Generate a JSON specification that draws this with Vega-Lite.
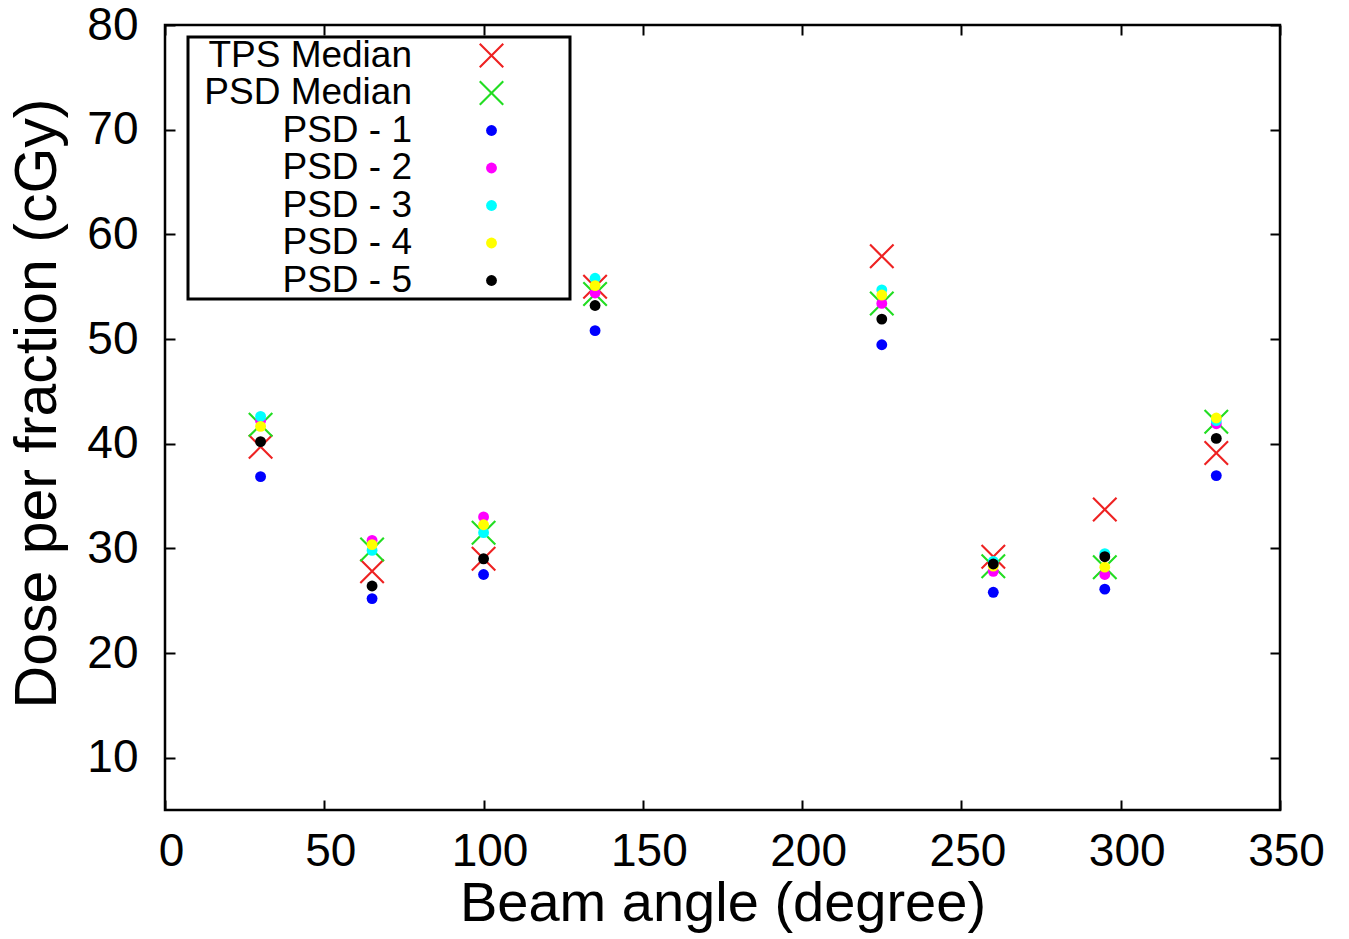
{
  "$schema": "https://vega.github.io/schema/vega-lite/v6.json",
  "width": 1115,
  "height": 785,
  "autosize": {"type": "none"},
  "padding": {"left": 165, "top": 25, "right": 69, "bottom": 129},
  "background": "white",
  "config": {
    "view": {"stroke": "black", "strokeWidth": 2.5},
    "font": "Liberation Sans",
    "legend": {"strokeWidth": 3},
    "axis": {
      "grid": false,
      "domain": false,
      "tickColor": "black",
      "tickWidth": 2,
      "tickSize": -10,
      "labelFont": "Liberation Sans",
      "labelFontSize": 46,
      "labelColor": "black",
      "labelFlush": false,
      "titleFont": "Liberation Sans",
      "titleFontSize": 56,
      "titleFontWeight": "normal",
      "titleColor": "black"
    }
  },
  "data": {
    "values": [
      {"angle": 30, "dose": 39.7, "series": "TPS Median"},
      {"angle": 65, "dose": 27.8, "series": "TPS Median"},
      {"angle": 100, "dose": 29.0, "series": "TPS Median"},
      {"angle": 135, "dose": 55.0, "series": "TPS Median"},
      {"angle": 225, "dose": 57.9, "series": "TPS Median"},
      {"angle": 260, "dose": 29.2, "series": "TPS Median"},
      {"angle": 295, "dose": 33.7, "series": "TPS Median"},
      {"angle": 330, "dose": 39.1, "series": "TPS Median"},
      {"angle": 30, "dose": 41.8, "series": "PSD Median"},
      {"angle": 65, "dose": 29.9, "series": "PSD Median"},
      {"angle": 100, "dose": 31.5, "series": "PSD Median"},
      {"angle": 135, "dose": 54.3, "series": "PSD Median"},
      {"angle": 225, "dose": 53.4, "series": "PSD Median"},
      {"angle": 260, "dose": 28.3, "series": "PSD Median"},
      {"angle": 295, "dose": 28.2, "series": "PSD Median"},
      {"angle": 330, "dose": 42.1, "series": "PSD Median"},
      {"angle": 30, "dose": 36.85, "series": "PSD - 1"},
      {"angle": 65, "dose": 25.2, "series": "PSD - 1"},
      {"angle": 100, "dose": 27.5, "series": "PSD - 1"},
      {"angle": 135, "dose": 50.8, "series": "PSD - 1"},
      {"angle": 225, "dose": 49.45, "series": "PSD - 1"},
      {"angle": 260, "dose": 25.8, "series": "PSD - 1"},
      {"angle": 295, "dose": 26.1, "series": "PSD - 1"},
      {"angle": 330, "dose": 36.95, "series": "PSD - 1"},
      {"angle": 30, "dose": 42.2, "series": "PSD - 2"},
      {"angle": 65, "dose": 30.76, "series": "PSD - 2"},
      {"angle": 100, "dose": 33.0, "series": "PSD - 2"},
      {"angle": 135, "dose": 54.4, "series": "PSD - 2"},
      {"angle": 225, "dose": 53.4, "series": "PSD - 2"},
      {"angle": 260, "dose": 27.8, "series": "PSD - 2"},
      {"angle": 295, "dose": 27.5, "series": "PSD - 2"},
      {"angle": 330, "dose": 41.9, "series": "PSD - 2"},
      {"angle": 30, "dose": 42.6, "series": "PSD - 3"},
      {"angle": 65, "dose": 29.8, "series": "PSD - 3"},
      {"angle": 100, "dose": 31.5, "series": "PSD - 3"},
      {"angle": 135, "dose": 55.8, "series": "PSD - 3"},
      {"angle": 225, "dose": 54.7, "series": "PSD - 3"},
      {"angle": 260, "dose": 28.75, "series": "PSD - 3"},
      {"angle": 295, "dose": 29.5, "series": "PSD - 3"},
      {"angle": 330, "dose": 42.2, "series": "PSD - 3"},
      {"angle": 30, "dose": 41.65, "series": "PSD - 4"},
      {"angle": 65, "dose": 30.35, "series": "PSD - 4"},
      {"angle": 100, "dose": 32.25, "series": "PSD - 4"},
      {"angle": 135, "dose": 55.1, "series": "PSD - 4"},
      {"angle": 225, "dose": 54.2, "series": "PSD - 4"},
      {"angle": 260, "dose": 28.3, "series": "PSD - 4"},
      {"angle": 295, "dose": 28.2, "series": "PSD - 4"},
      {"angle": 330, "dose": 42.45, "series": "PSD - 4"},
      {"angle": 30, "dose": 40.2, "series": "PSD - 5"},
      {"angle": 65, "dose": 26.4, "series": "PSD - 5"},
      {"angle": 100, "dose": 29.0, "series": "PSD - 5"},
      {"angle": 135, "dose": 53.2, "series": "PSD - 5"},
      {"angle": 225, "dose": 51.9, "series": "PSD - 5"},
      {"angle": 260, "dose": 28.5, "series": "PSD - 5"},
      {"angle": 295, "dose": 29.2, "series": "PSD - 5"},
      {"angle": 330, "dose": 40.5, "series": "PSD - 5"}
    ]
  },
  "resolve": {"axis": {"x": "independent", "y": "independent"}},
  "layer": [
    {
      "mark": {"type": "point", "filled": true, "opacity": 1, "strokeWidth": 0},
      "encoding": {
        "x": {
          "field": "angle", "type": "quantitative",
          "scale": {"domain": [0, 350], "nice": false, "zero": false},
          "axis": {"orient": "bottom", "values": [0, 50, 100, 150, 200, 250, 300, 350], "labelPadding": 29, "labelOffset": 6, "title": "Beam angle (degree)", "titleBaseline": "alphabetic", "titleY": 110}
        },
        "y": {
          "field": "dose", "type": "quantitative",
          "scale": {"domain": [5, 80], "nice": false, "zero": false},
          "axis": {"orient": "left", "values": [10, 20, 30, 40, 50, 60, 70, 80], "labelPadding": 37, "title": "Dose per fraction (cGy)", "titleFontSize": 59, "titleBaseline": "alphabetic", "titleX": -110, "titleY": 378, "titleAngle": -90}
        },
        "color": {
          "field": "series", "type": "nominal",
          "scale": {
            "domain": ["TPS Median", "PSD Median", "PSD - 1", "PSD - 2", "PSD - 3", "PSD - 4", "PSD - 5"],
            "range": ["#ee2222", "#22dd22", "#0000ff", "#ff00ff", "#00ffff", "#ffff00", "#000000"]
          },
          "legend": {
            "orient": "none", "legendX": 23, "legendY": 12,
            "title": " ", "titleOrient": "right", "titleFontSize": 1, "titlePadding": 66,
            "labelFont": "Liberation Sans", "labelFontSize": 37, "labelColor": "black", "labelLimit": 0,
            "labelAlign": "right", "labelOffset": -98, "symbolOffset": 285,
            "rowPadding": -0.5, "padding": 0,
            "strokeColor": "black", "fillColor": "white",
            "symbolStrokeWidth": 0,
            "encode": {
              "legend": {"update": {"strokeWidth": {"value": 3}}}
            }
          }
        },
        "shape": {
          "field": "series", "type": "nominal",
          "scale": {
            "domain": ["TPS Median", "PSD Median", "PSD - 1", "PSD - 2", "PSD - 3", "PSD - 4", "PSD - 5"],
            "range": [
              "M-1,-0.88L-0.88,-1L0,-0.12L0.88,-1L1,-0.88L0.12,0L1,0.88L0.88,1L0,0.12L-0.88,1L-1,0.88L-0.12,0Z",
              "M-1,-0.88L-0.88,-1L0,-0.12L0.88,-1L1,-0.88L0.12,0L1,0.88L0.88,1L0,0.12L-0.88,1L-1,0.88L-0.12,0Z",
              "circle", "circle", "circle", "circle", "circle"
            ]
          }
        },
        "size": {
          "field": "series", "type": "nominal",
          "scale": {
            "type": "ordinal",
            "domain": ["TPS Median", "PSD Median", "PSD - 1", "PSD - 2", "PSD - 3", "PSD - 4", "PSD - 5"],
            "range": [625, 625, 118, 118, 118, 118, 118]
          }
        }
      }
    },
    {
      "mark": {"type": "point", "opacity": 0},
      "encoding": {
        "x": {
          "field": "angle", "type": "quantitative",
          "axis": {"orient": "top", "values": [0, 50, 100, 150, 200, 250, 300, 350], "labels": false, "title": null}
        },
        "y": {
          "field": "dose", "type": "quantitative",
          "axis": {"orient": "right", "values": [10, 20, 30, 40, 50, 60, 70, 80], "labels": false, "title": null}
        }
      }
    }
  ]
}
